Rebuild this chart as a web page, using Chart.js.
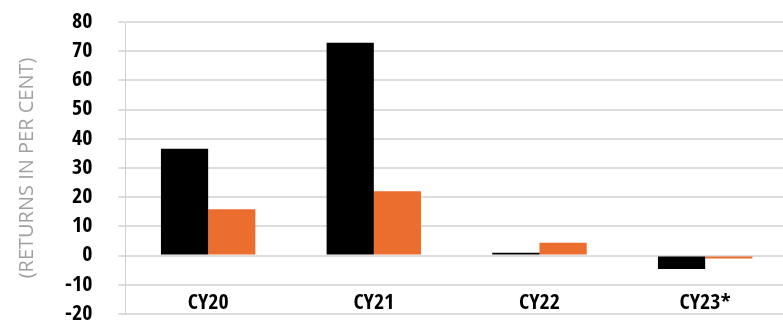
<!DOCTYPE html>
<html>
<head>
<meta charset="utf-8">
<script src="https://cdn.jsdelivr.net/npm/chart.js@4/dist/chart.umd.min.js"></script>
<style>
  html, body { margin: 0; padding: 0; background: #fff; overflow: hidden; }
  #wrap { width: 788px; height: 323px; position: relative; }
</style>
</head>
<body>
<div id="wrap"><canvas id="chart"></canvas></div>
<script>
// Calendar years shown on the category axis
const years = ['CY20', 'CY21', 'CY22', 'CY23*'];
// Annual returns, in per cent
const seriesBlack = [36.6, 72.9, 1.0, -4.6];
const seriesOrange = [15.9, 22.0, 4.4, -1.0];
// Value axis range
const yMin = -20;
const yMax = 80;
const yStep = 10;

const boldCond = "'Open Sans Condensed', 'Roboto Condensed', sans-serif";
const titleFont = "'Open Sans', 'Roboto', sans-serif";

new Chart(document.getElementById('chart'), {
  type: 'bar',
  data: {
    labels: years,
    datasets: [
      { data: seriesBlack, backgroundColor: '#000000', borderWidth: 0 },
      { data: seriesOrange, backgroundColor: '#ec6e2e', borderWidth: 0 }
    ]
  },
  options: {
    responsive: true,
    maintainAspectRatio: false,
    animation: false,
    layout: { padding: { top: 22, bottom: 9, left: 15, right: 0 } },
    plugins: { legend: { display: false }, tooltip: { enabled: false } },
    datasets: { bar: { categoryPercentage: 0.57, barPercentage: 1.0 } },
    scales: {
      x: {
        // category labels sit just under the -10 gridline
        position: { y: -10 },
        afterFit: (scale) => { scale.height = 0; },
        grid: { display: false, drawTicks: false },
        border: { display: false },
        ticks: {
          color: '#000',
          padding: 5,
          font: { family: boldCond, size: 22, weight: 'bold' }
        }
      },
      y: {
        min: yMin,
        max: yMax,
        // keep the end labels from pushing the plot area inwards
        afterFit: (scale) => { scale.paddingTop = 0; scale.paddingBottom = 0; },
        ticks: {
          stepSize: yStep,
          autoSkip: false,
          color: '#000',
          padding: 26,
          font: { family: boldCond, size: 22, weight: 'bold' }
        },
        grid: { color: '#dddddd', lineWidth: 2, tickLength: 7 },
        border: { display: true, color: '#d0d0d0', width: 1 },
        title: {
          display: true,
          text: '(RETURNS IN PER CENT)',
          color: '#a0a0a0',
          padding: { top: 0, bottom: 0 },
          font: { family: titleFont, size: 20, weight: 'normal' }
        }
      }
    }
  }
});
</script>
</body>
</html>
